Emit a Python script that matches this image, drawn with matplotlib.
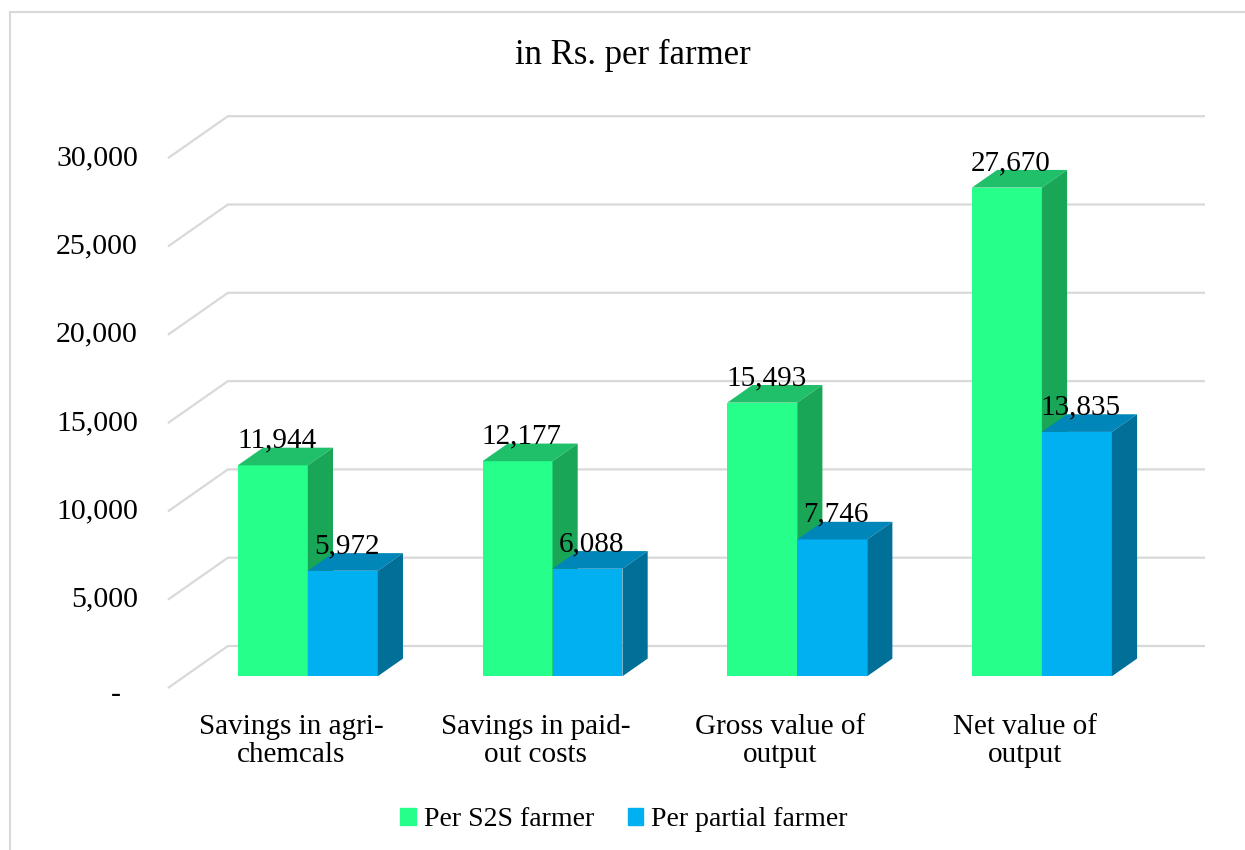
import matplotlib
matplotlib.use("Agg")
import matplotlib.pyplot as plt
from matplotlib.patches import Patch, Rectangle

plt.rcParams['font.family'] = ['Liberation Serif', 'DejaVu Serif']

categories = ["Savings in agri-\nchemcals", "Savings in paid-\nout costs",
              "Gross value of\noutput", "Net value of\noutput"]
s2s = [11944, 12177, 15493, 27670]
partial = [5972, 6088, 7746, 13835]
series_names = ["Per S2S farmer", "Per partial farmer"]
yticks = [0, 5000, 10000, 15000, 20000, 25000, 30000]
ytick_labels = ["-", "5,000", "10,000", "15,000", "20,000", "25,000", "30,000"]

green = ("#26FF8A", "#20C06A", "#1AA657")   # front, top, side
blue = ("#00B0F0", "#0086B8", "#007099")

fig = plt.figure(figsize=(12.45, 8.5), dpi=100)
ax = fig.add_axes([0, 0, 1, 1])
ax.axis('off')

# px scale: 244.7 px per category, 0.01766 px per unit value
ax.set_xlim(-291 / 244.7, (1245 - 291) / 244.7)
ax.set_ylim((688 - 850) / 0.01766, 688 / 0.01766)

DX = 60 / 244.7      # depth of the wall in x units
DY = 42 / 0.01766    # depth of the wall in value units
d0, d1 = 0.28, 0.70  # bar front / back depth
w = 0.286

# back wall gridlines
xl, xr = -0.503, 3.735
for v in yticks:
    ax.plot([xl, xl + DX, xr], [v, v + DY, v + DY], color="#d9d9d9", lw=1.6,
            solid_capstyle='butt', zorder=1)

for v, lab in zip(yticks, ytick_labels):
    if lab == "-":
        ax.text(-0.695, v - 400, lab, ha='right', va='center', fontsize=21.5)
    else:
        ax.text(-0.625, v, lab, ha='right', va='center', fontsize=21.5)


def bar3d(x0, h, cols):
    fx, fy = x0 + d0 * DX, d0 * DY
    bx, by = x0 + d1 * DX, d1 * DY
    ax.fill([fx, fx + w, fx + w, fx], [fy, fy, fy + h, fy + h], color=cols[0], lw=0, zorder=3)
    ax.fill([fx, fx + w, bx + w, bx], [fy + h, fy + h, by + h, by + h], color=cols[1], lw=0, zorder=3)
    ax.fill([fx + w, bx + w, bx + w, fx + w], [fy, by, by + h, fy + h], color=cols[2], lw=0, zorder=3)
    ax.text(fx + w / 2 + 0.016, by + h, f"{h:,}", ha='center', va='baseline',
            fontsize=21, zorder=5)


for i, (a, b) in enumerate(zip(s2s, partial)):
    bar3d(i - w, a, green)
    bar3d(i, b, blue)
    ax.text(i, (688 - 741) / 0.01766, categories[i], ha='center', va='center', fontsize=21,
            linespacing=1.13)

fig.text(0.508, 1 - 55 / 850, "in Rs. per farmer", ha='center', va='center', fontsize=25)
fig.text(1085 / 1245, 1 + 16 / 850, "p", ha='center', va='baseline', fontsize=25)

handles = [Patch(color=green[0]), Patch(color=blue[0])]
fig.legend(handles, series_names, loc='center', bbox_to_anchor=(624 / 1245, 1 - 820 / 850),
           ncol=2, frameon=False, fontsize=20, handlelength=0.55, handleheight=0.55,
           handletextpad=0.3, columnspacing=1.2)

fig.patches.append(Rectangle((10 / 1245, -0.1), 1.2, 1.1 - 12 / 850, transform=fig.transFigure,
                             fill=False, edgecolor="#d9d9d9", lw=1.5))

fig.savefig("out.png", dpi=100)
